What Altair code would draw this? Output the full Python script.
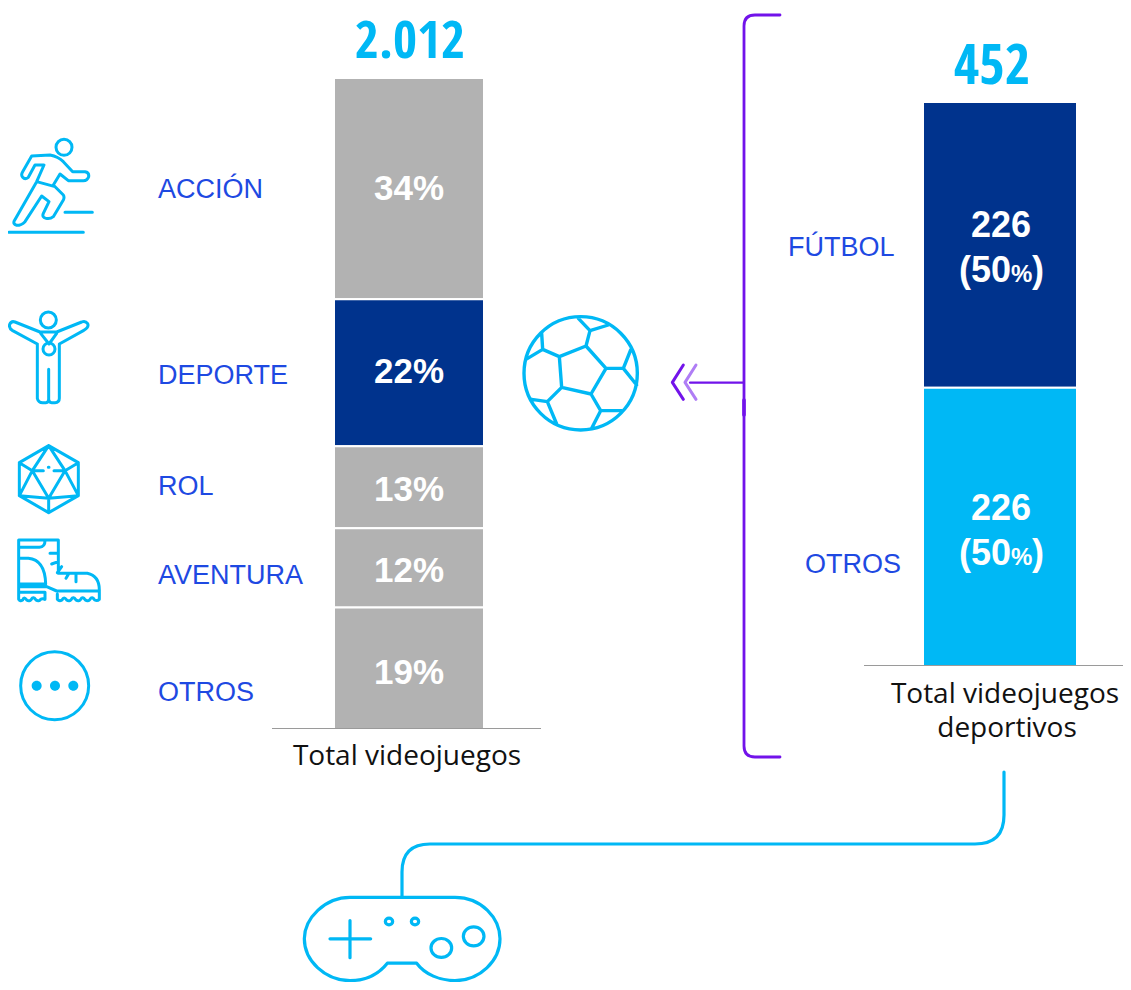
import re
import altair as alt
import pandas as pd

# ---- data ----
genres = ["ACCIÓN", "DEPORTE", "ROL", "AVENTURA", "OTROS"]
genre_shares = [33.98, 22.57, 12.63, 12.17, 18.64]
genre_labels = ["34%", "22%", "13%", "12%", "19%"]
genre_total = "2.012"
sport_names = ["FÚTBOL", "OTROS"]
sport_counts = [229, 223]
sport_labels = ["226", "226"]
sport_pcts = ["(50", "(50"]
sport_total = "452"

# ---- style ----
CYAN = "#00B8F5"
NAVY = "#00338D"
GREY = "#B2B2B2"
LABEL = "#1E49E2"
PURPLE = "#7213EA"
LILAC = "#AF7DF5"
SANS = "Liberation Sans"
OFF = 8  # page margin


def px(v):
    return v - OFF


one = pd.DataFrame({"k": [0]})


def text(s, x, y, size, color, align="left", weight="normal", font=SANS):
    return alt.Chart(pd.DataFrame({"t": [s]})).mark_text(
        align=align, baseline="alphabetic", fontSize=size, color=color,
        fontWeight=weight, font=font
    ).encode(x=alt.value(px(x)), y=alt.value(px(y)), text="t:N")


def circle(cx, cy, r):
    k = 0.5523 * r
    return (f"M{cx-r} {cy}C{cx-r} {cy-k} {cx-k} {cy-r} {cx} {cy-r}"
            f"C{cx+k} {cy-r} {cx+r} {cy-k} {cx+r} {cy}"
            f"C{cx+r} {cy+k} {cx+k} {cy+r} {cx} {cy+r}"
            f"C{cx-k} {cy+r} {cx-r} {cy+k} {cx-r} {cy}Z")


def icon(path, ox, oy, zoom=3.0, color=CYAN, width=2.6, filled=False):
    s = (2.0 / zoom) ** 2
    kw = dict(shape=path, size=s, opacity=1, strokeCap="round", strokeJoin="round")
    if filled:
        kw.update(filled=True, fill=color, strokeWidth=0)
    else:
        kw.update(filled=False, stroke=color, strokeWidth=width)
    return alt.Chart(one).mark_point(**kw).encode(
        x=alt.value(px(ox)), y=alt.value(px(oy))
    )


def rule(x1, x2, y, color="#9A9A9A", width=1):
    return alt.Chart(one).mark_rule(color=color, strokeWidth=width).encode(
        x=alt.value(px(x1)), x2=alt.value(px(x2)), y=alt.value(px(y))
    )


# ---- left bar ----
left = pd.DataFrame({"g": genres, "v": genre_shares})
left["top"] = 100 - left["v"].cumsum() + left["v"]
left["bot"] = 100 - left["v"].cumsum()
left_bar = alt.Chart(left).mark_bar(stroke="white", strokeWidth=2).encode(
    x=alt.value(px(334)), x2=alt.value(px(484)),
    y=alt.Y("bot:Q", scale=alt.Scale(domain=[0, 100], range=[px(729), px(78)]), axis=None),
    y2="top:Q",
    color=alt.Color("g:N", legend=None, scale=alt.Scale(
        domain=genres, range=[GREY, NAVY, GREY, GREY, GREY])),
)

# ---- right bar ----
right = pd.DataFrame({"g": sport_names, "v": sport_counts})
right["top"] = 452 - right["v"].cumsum() + right["v"]
right["bot"] = 452 - right["v"].cumsum()
right_bar = alt.Chart(right).mark_bar(stroke="white", strokeWidth=2).encode(
    x=alt.value(px(923)), x2=alt.value(px(1077)),
    y=alt.Y("bot:Q", scale=alt.Scale(domain=[0, 452], range=[px(666), px(102)]), axis=None),
    y2="top:Q",
    color=alt.Color("g:N", legend=None, scale=alt.Scale(
        domain=sport_names, range=[NAVY, CYAN])),
)

layers = [left_bar, right_bar, rule(272, 541, 728.5), rule(864, 1131, 665.5)]

for lab, y in zip(genre_labels, [200, 383, 501, 582, 684]):
    layers.append(text(lab, 409, y, 35, "white", "center", "bold"))

# titles (condensed display figures)
layers += [
    text(genre_total, 410, 58, 52, CYAN, "center", "bold", "Open Sans Condensed"),
    text(sport_total, 992, 84, 55, CYAN, "center", "bold", "Open Sans Condensed"),
]
# category labels
for name, y in zip(genres, [198, 384, 495, 584, 701]):
    layers.append(text(name, 158, y, 27, LABEL))
layers.append(text(sport_names[0], 788, 256, 27, LABEL))
layers.append(text(sport_names[1], 805, 573, 27, LABEL))
layers += [
    text("Total videojuegos", 407, 765, 28, "#111111", "center", font="Open Sans"),
    text("Total videojuegos", 1005, 703, 28, "#111111", "center", font="Open Sans"),
    text("deportivos", 1007, 737, 28, "#111111", "center", font="Open Sans"),
]
# right-hand values
for lab, pct, y1, y2 in zip(sport_labels, sport_pcts, [237, 520], [282, 565]):
    layers += [
        text(lab, 1001, y1, 36, "white", "center", "bold"),
        text(pct, 959, y2, 36, "white", "left", "bold"),
        text("%", 1011, y2, 24, "white", "left", "bold"),
        text(")", 1032, y2, 36, "white", "left", "bold"),
    ]

# ---- icons ----
runner = (circle(192, 82, 24) +
          "M95 108L150 105Q175 110 190 125L218 155L255 155Q268 157 266 170Q262 182 250 182L205 182L180 162"
          "L160 195L190 225Q194 232 190 240L160 290Q150 298 138 295Q125 292 130 280L147 245L125 228L75 305"
          "Q65 316 50 316Q38 312 43 302L110 185L132 135L105 135L85 172Q75 180 68 172Q62 165 68 155L95 108Z"
          "M110 185L165 200M27 337L250 337M195 277L277 277")
medal = (circle(145, 600, 24) + circle(147, 687, 18) +
         "M112 672L112 835Q115 848 128 848L138 848Q146 848 146 838L146 748M146 838Q146 848 155 848L165 848"
         "Q178 848 178 835L178 672L250 632Q268 622 263 611Q256 601 245 606L170 636L120 636L45 606"
         "Q34 602 29 613Q26 625 38 632L112 672M122 640L147 672L170 640")
dice = ("M146 47L235 98L235 197L146 248L58 197L58 98Z"
        "M146 47L97 122L146 205L195 122L146 47M58 98L97 122L58 197L146 205L235 197L195 122L235 98"
        "M146 205L146 248M97 122L130 122M162 122L195 122M145 112L147 112")
boot = ("M56 330L175 330L175 430L262 430Q298 438 298 480L298 508M56 330L56 508"
        "M56 352L118 352Q135 350 135 332M56 385L85 385Q135 390 137 462L56 462"
        "M56 470L140 470L170 483L298 483M56 487L135 487L135 508M172 492L172 508"
        "M150 370L175 370M155 402L175 395M172 428L185 410M198 445L207 430M228 455L228 432"
        "M56 508Q60 515 68 510Q72 498 80 510Q88 516 94 508Q100 498 108 510Q116 516 122 508Q128 504 135 508"
        "M172 508Q178 515 186 510Q192 498 200 510Q208 516 214 508Q220 498 228 510Q236 516 242 508"
        "Q248 498 256 510Q264 516 270 508Q276 498 284 510Q292 514 298 508")
layers += [
    icon(runner, 0, 120, width=3),
    icon(medal, 0, 120, width=3),
    icon(dice, 0, 430, width=3),
    icon(boot, 0, 430, width=3),
    icon(circle(164, 767, 102), 0, 430, width=3),
    icon(circle(110, 767, 15) + circle(165, 767, 15) + circle(220, 767, 15), 0, 430, filled=True),
]
ball = (circle(212, 220, 170) +
        "M148 170L228 138L288 205L243 282L155 262Z"
        "M228 138L240 92L205 55M240 92L295 75M148 170L98 148L95 100M98 148L48 178"
        "M288 205L340 205L362 150M340 205L380 255M243 282L272 332L335 332M272 332L245 385"
        "M155 262L112 305L65 298M112 305L140 372")
layers.append(icon(ball, 510, 300, width=3.4))

# arrow and bracket
layers += [
    icon("M540 248L700 248", 510, 300, color=PURPLE, width=2.2),
    icon("M520 195L487 247L520 298", 510, 300, color=PURPLE, width=3),
    icon("M558 195L525 247L558 298", 510, 300, color=LILAC, width=3),
    icon("M780 15L755 15Q744 15 744 26L744 746Q744 757 755 757L780 757", 0, 0, zoom=1, color=PURPLE, width=2.8),
    icon("M744 400L744 415", 0, 0, zoom=1, color=PURPLE, width=3.6),
]

# connector and game pad (flattened a little so that its lower edge stays on the page)
layers.append(icon("M1004 772L1004 815Q1004 844 975 844L430 844Q402 844 402 872L402 897", 0, 0, zoom=1, width=3.2))
pad = ("M180 412L495 412C575 412 630 480 630 548C630 620 570 685 495 685C450 685 405 665 380 628L292 628"
       "C265 665 225 685 180 685C105 685 43 620 43 548C43 480 105 412 180 412Z"
       "M180 488L180 610M120 548L242 548" +
       circle(297, 491, 11) + circle(375, 491, 11) + circle(454, 578, 31) + circle(551, 540, 31))
pad = re.sub(r"(-?[\d.]+) (-?[\d.]+)",
             lambda m: f"{m[1]} {412 + (float(m[2]) - 412) * 0.915:.2f}", pad)
layers.append(icon(pad, 290, 760, width=3.2))

chart = alt.layer(*layers).resolve_scale(y="independent", color="independent").properties(
    width=1115, height=974, padding=0, autosize=alt.AutoSizeParams(type="none")
).configure_view(stroke=None)

chart.save("out.html", embed_options={"renderer": "svg", "actions": False})
